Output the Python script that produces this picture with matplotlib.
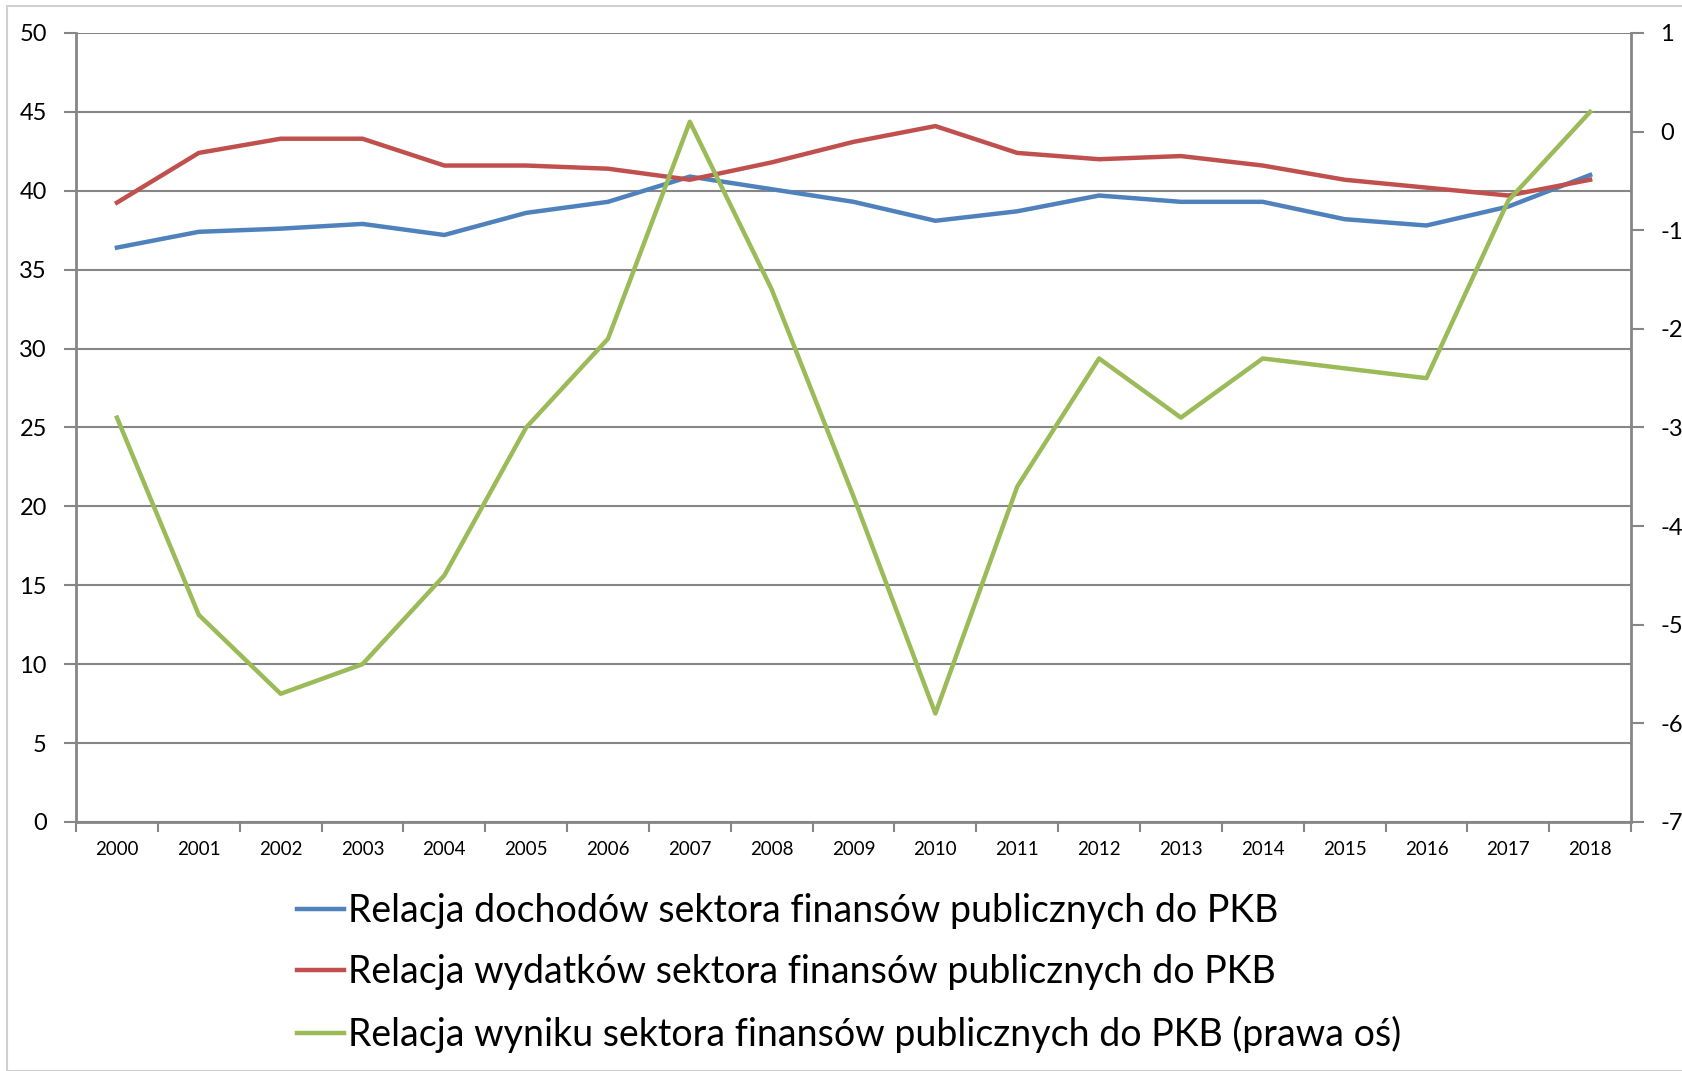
import matplotlib.pyplot as plt
from matplotlib.patches import Rectangle
import numpy as np

years = [str(y) for y in range(2000, 2019)]
dochody = [36.4, 37.4, 37.6, 37.9, 37.2, 38.6, 39.3, 40.9, 40.1, 39.3,
           38.1, 38.7, 39.7, 39.3, 39.3, 38.2, 37.8, 39.0, 41.0]
wydatki = [39.25, 42.4, 43.3, 43.3, 41.6, 41.6, 41.4, 40.7, 41.8, 43.1,
           44.1, 42.4, 42.0, 42.2, 41.6, 40.7, 40.2, 39.7, 40.7]
wynik = [-2.9, -4.9, -5.7, -5.4, -4.5, -3.0, -2.1, 0.1, -1.6, -3.7,
         -5.9, -3.6, -2.3, -2.9, -2.3, -2.4, -2.5, -0.7, 0.2]

labels = [
    "Relacja dochodów sektora finansów publicznych do PKB",
    "Relacja wydatków sektora finansów publicznych do PKB",
    "Relacja wyniku sektora finansów publicznych do PKB (prawa oś)",
]
colors = ["#4F81BD", "#C0504D", "#9BBB59"]
grid_c = "#868686"

plt.rcParams["font.family"] = ["Lato", "DejaVu Sans"]
plt.rcParams["axes.unicode_minus"] = False

fig = plt.figure(figsize=(16.82, 10.71), dpi=100)
fig.patches.append(Rectangle((7 / 1682, 0), 2, (1071 - 6) / 1071,
                             transform=fig.transFigure, fill=False,
                             edgecolor="#d0d0d0", linewidth=1.5))

ax = fig.add_axes([0.0452, 0.2325, 0.9697 - 0.0452, 0.9692 - 0.2325])
ax2 = ax.twinx()
x = np.arange(len(years))

l1, = ax.plot(x, dochody, color=colors[0], lw=3.2)
l2, = ax.plot(x, wydatki, color=colors[1], lw=3.2)
l3, = ax2.plot(x, wynik, color=colors[2], lw=3.2)

ax.set_xlim(-0.5, len(years) - 0.5)
ax.set_ylim(0, 50)
ax.set_yticks(range(0, 51, 5))
ax2.set_ylim(-7, 1)
ax2.set_yticks(range(-7, 2))
ax.grid(axis="y", color=grid_c, lw=1.5)
ax.set_axisbelow(True)

ax.set_xticks(x)
ax.set_xticklabels(years, fontsize=13.5)
ax.set_xticks(np.arange(-0.5, len(years)), minor=True)
ax.tick_params(axis="x", which="major", length=0, pad=14)
ax.tick_params(axis="x", which="minor", length=7, width=1.5, color=grid_c)
ax.tick_params(axis="y", length=9, width=1.5, color=grid_c, labelsize=17, pad=12)
ax2.tick_params(axis="y", length=9, width=1.5, color=grid_c, labelsize=17, pad=12)

for a in (ax, ax2):
    for s in a.spines.values():
        s.set_visible(False)
    a.spines["left"].set_visible(a is ax)
    a.spines["right"].set_visible(a is ax2)
    a.spines["bottom"].set_visible(a is ax)
ax.spines["left"].set_color(grid_c)
ax.spines["left"].set_linewidth(2)
ax.spines["bottom"].set_color(grid_c)
ax.spines["bottom"].set_linewidth(2)
ax2.spines["right"].set_color(grid_c)
ax2.spines["right"].set_linewidth(2)

fig.legend([l1, l2, l3], labels, loc="upper left",
           bbox_to_anchor=(278 / 1682, 1 - 874 / 1071), frameon=False,
           fontsize=27, handlelength=1.25, handletextpad=0.12,
           labelspacing=0.68, borderpad=0)

fig.savefig("out.png", dpi=100)
